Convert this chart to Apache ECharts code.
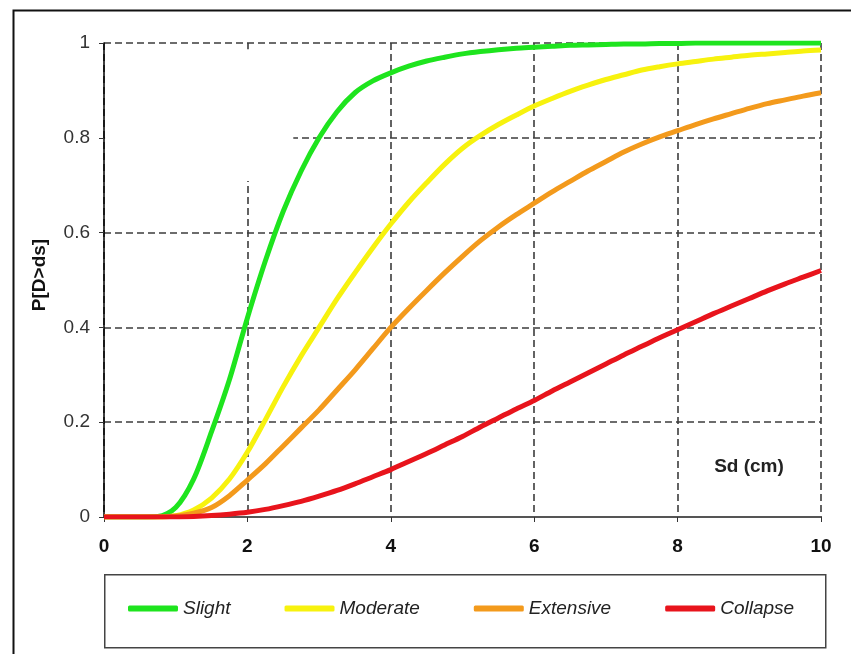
<!DOCTYPE html>
<html>
<head>
<meta charset="utf-8">
<script src="https://cdn.jsdelivr.net/npm/echarts@6/dist/echarts.min.js"></script>
<style>html,body{margin:0;padding:0;background:#fff;}#c{width:851px;height:654px;}</style>
</head>
<body>
<div id="c"></div>
<script>
var sd = [0, 0.25, 0.5, 0.75, 1, 1.25, 1.5, 1.75, 2, 2.25, 2.5, 2.75, 3, 3.25, 3.5, 3.75, 4, 4.25, 4.5, 4.75, 5,
          5.25, 5.5, 5.75, 6, 6.25, 6.5, 6.75, 7, 7.25, 7.5, 7.75, 8, 8.25, 8.5, 8.75, 9, 9.25, 9.5, 9.75, 10];
var slight =    [0, 0, 0, 0.001, 0.02, 0.08, 0.18, 0.29, 0.42, 0.54, 0.645, 0.73, 0.80, 0.855, 0.895, 0.92, 0.937, 0.951, 0.962, 0.970, 0.977,
                 0.982, 0.986, 0.989, 0.991, 0.993, 0.995, 0.996, 0.997, 0.998, 0.998, 0.999, 0.999, 1, 1, 1, 1, 1, 1, 1, 1];
var moderate =  [0, 0, 0, 0, 0.003, 0.015, 0.04, 0.08, 0.137, 0.205, 0.275, 0.34, 0.40, 0.46, 0.515, 0.568, 0.618, 0.664, 0.705, 0.744, 0.778,
                 0.805, 0.828, 0.848, 0.867, 0.883, 0.898, 0.911, 0.923, 0.933, 0.943, 0.95, 0.956, 0.961, 0.966, 0.970, 0.974, 0.977, 0.98, 0.983, 0.985];
var extensive = [0, 0, 0, 0, 0.002, 0.008, 0.02, 0.045, 0.078, 0.112, 0.15, 0.188, 0.226, 0.268, 0.31, 0.355, 0.40, 0.44, 0.478, 0.515, 0.55,
                 0.583, 0.612, 0.638, 0.662, 0.686, 0.708, 0.73, 0.75, 0.77, 0.787, 0.802, 0.815, 0.828, 0.84, 0.851, 0.862, 0.872, 0.88, 0.888, 0.895];
var collapse =  [0, 0, 0, 0, 0, 0.001, 0.003, 0.006, 0.01, 0.016, 0.024, 0.033, 0.044, 0.056, 0.07, 0.085, 0.10, 0.117, 0.134, 0.152, 0.17,
                 0.19, 0.209, 0.228, 0.246, 0.266, 0.285, 0.304, 0.323, 0.342, 0.36, 0.378, 0.395, 0.412, 0.429, 0.445, 0.461, 0.477, 0.492, 0.506, 0.52];
var seriesNames = ['Slight', 'Moderate', 'Extensive', 'Collapse'];
var seriesColors = ['#1ee41e', '#f7f20e', '#f39a1c', '#e8141c'];
var xAxisName = 'Sd (cm)';
var yAxisName = 'P[D>ds]';

function pairs(vals) { return sd.map(function (x, i) { return [x, vals[i]]; }); }
var allVals = [slight, moderate, extensive, collapse];
var FONT = '"Liberation Sans", Arial, sans-serif';

var series = seriesNames.map(function (n, i) {
  var s = {
    name: n, type: 'line', data: pairs(allVals[i]), smooth: 0.3,
    showSymbol: false, symbol: 'none',
    lineStyle: { color: seriesColors[i], width: 5 },
    itemStyle: { color: seriesColors[i] }
  };
  if (i === 0) {
    s.markArea = {
      silent: true,
      itemStyle: { color: '#ffffff' },
      data: [[{ coord: [0.015, 0.709] }, { coord: [2.64, 0.987] }]]
    };
  }
  return s;
});

var chart = echarts.init(document.getElementById('c'));
chart.setOption({
  animation: false,
  backgroundColor: '#fff',
  grid: { left: 104, right: 30, top: 43, bottom: 137, containLabel: false },
  xAxis: {
    type: 'value', min: 0, max: 10, interval: 2,
    axisLine: { lineStyle: { color: '#555', width: 2 } },
    axisTick: { show: true, length: 5, lineStyle: { color: '#333' } },
    axisLabel: { fontFamily: FONT, fontSize: 19, fontWeight: 'bold', color: '#111', margin: 20 },
    splitLine: { show: true, lineStyle: { color: '#3c3c3c', width: 1.6, type: [7, 4] } }
  },
  yAxis: {
    type: 'value', min: 0, max: 1, interval: 0.2,
    axisLine: { show: true, lineStyle: { color: '#000', width: 1.5 } },
    axisTick: { show: true, length: 5, lineStyle: { color: '#333' } },
    axisLabel: { fontFamily: FONT, fontSize: 19, color: '#333', margin: 14 },
    splitLine: { show: true, lineStyle: { color: '#3c3c3c', width: 1.6, type: [7, 4] } }
  },
  legend: {
    data: seriesNames, left: 128, top: 599, padding: 0,
    icon: 'roundRect', itemWidth: 50, itemHeight: 6, itemGap: 54,
    textStyle: { fontFamily: FONT, fontSize: 19, fontStyle: 'italic', color: '#222' }
  },
  graphic: [
    { type: 'rect', left: 11, top: 8, shape: { width: 900, height: 700 }, style: { fill: 'none', stroke: '#111', lineWidth: 2 }, z: -1 },
    { type: 'rect', left: 104, top: 574, shape: { width: 721, height: 73 }, style: { fill: '#fff', stroke: '#444', lineWidth: 1.5 }, z: -1 },
    { type: 'text', x: 749, y: 467, style: { text: xAxisName, font: 'bold 19px ' + FONT, fill: '#222', align: 'center', verticalAlign: 'middle' }, z: 10 },
    { type: 'text', x: 40, y: 275, rotation: Math.PI / 2, style: { text: yAxisName, font: 'bold 19px ' + FONT, fill: '#111', align: 'center', verticalAlign: 'middle' }, z: 10 }
  ],
  series: series
});
</script>
</body>
</html>
